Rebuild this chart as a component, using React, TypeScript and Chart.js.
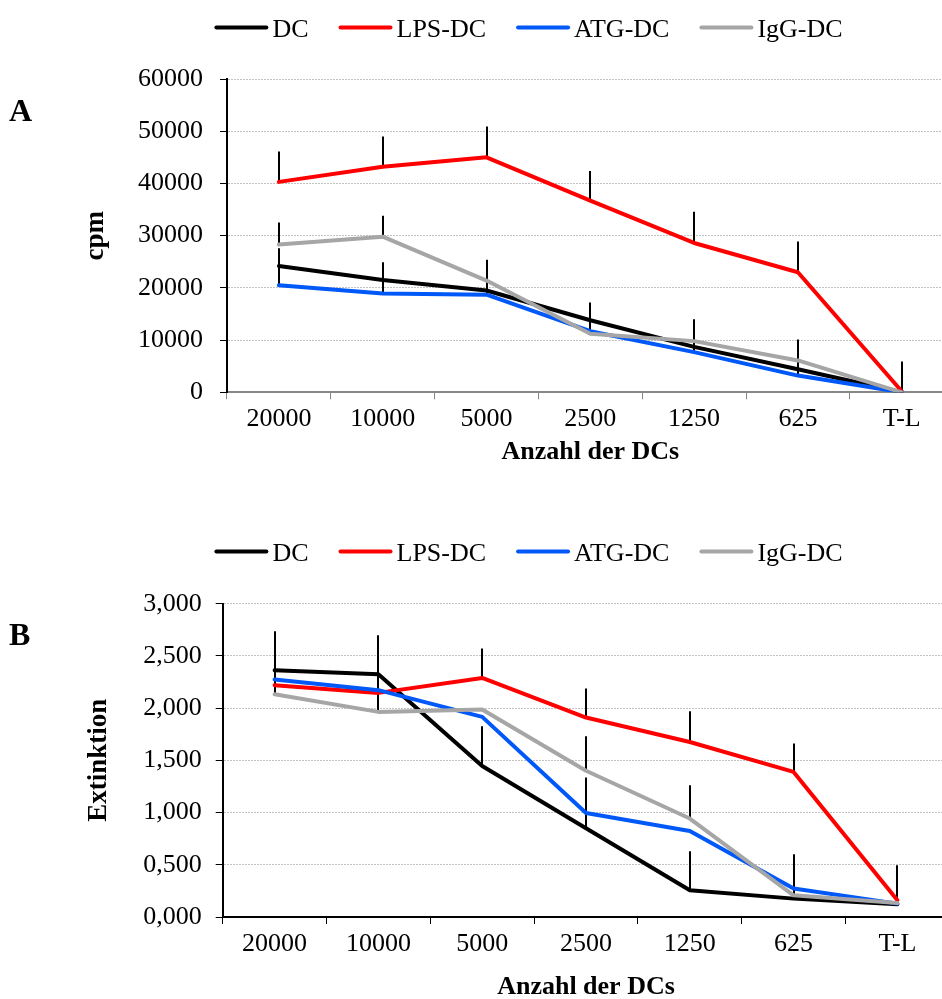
import { useEffect, useRef } from 'react';
import { Chart, registerables } from 'chart.js';

Chart.register(...registerables);

// Shared categories and series
const categories = ['20000', '10000', '5000', '2500', '1250', '625', 'T-L'];
const seriesNames = ['DC', 'LPS-DC', 'ATG-DC', 'IgG-DC'];
const seriesColors = ['#000000', '#ff0000', '#0058f8', '#a6a6a6'];

// Panel A – proliferation (cpm)
const cpmDC = [24200, 21500, 19500, 13800, 8700, 4400, 0];
const cpmLPS = [40300, 43200, 45000, 36700, 28600, 23000, 200];
const cpmATG = [20500, 18900, 18700, 11700, 7700, 3200, 0];
const cpmIgG = [28300, 29800, 21400, 11200, 9800, 6100, 0];
// upper error bars (SD)
const cpmErrDC = [null, null, null, null, null, null, null];
const cpmErrLPS = [5800, 5800, 5900, 5700, 6000, 5900, null];
const cpmErrATG = [7100, 6000, 6700, 5500, 6300, 6900, 5900];
const cpmErrIgG = [4200, 4000, null, null, null, null, null];
const cpmTicks = { min: 0, max: 60000, step: 10000 };

// Panel B – extinction
const extDC = [2.363, 2.325, 1.446, 0.85, 0.256, 0.176, 0.122];
const extLPS = [2.219, 2.146, 2.289, 1.91, 1.676, 1.389, 0.16];
const extATG = [2.274, 2.172, 1.916, 0.996, 0.824, 0.272, 0.128];
const extIgG = [2.133, 1.964, 1.986, 1.4, 0.943, 0.208, 0.134];
const extErrDC = [0.374, 0.373, 0.38, 0.485, 0.373, 0.425, null];
const extErrLPS = [null, null, 0.282, 0.278, 0.294, 0.272, 0.336];
const extErrATG = [null, null, null, null, null, null, null];
const extErrIgG = [0.23, 0.36, null, 0.33, 0.318, null, null];
const extTicks = { min: 0, max: 3, step: 0.5 };

const FONT = '"Liberation Serif", "Times New Roman", serif';
const CANVAS_W = 1056;

// Upper error bars, drawn beneath the lines
const errorBarPlugin = {
  id: 'errorBars',
  beforeDatasetsDraw(chart: any) {
    const { ctx } = chart;
    const yScale = chart.scales.y;
    ctx.save();
    ctx.strokeStyle = '#000';
    ctx.lineWidth = 2;
    chart.data.datasets.forEach((ds: any, i: number) => {
      const meta = chart.getDatasetMeta(i);
      const errs = ds.errorBars || [];
      errs.forEach((e: number | null, j: number) => {
        if (e == null) return;
        const v = ds.data[j];
        const x = Math.round(meta.data[j].x);
        ctx.beginPath();
        ctx.moveTo(x, yScale.getPixelForValue(v));
        ctx.lineTo(x, yScale.getPixelForValue(v + e));
        ctx.stroke();
      });
    });
    ctx.restore();
  },
};

// Panel letter and line legend above the plot
const decorPlugin = {
  id: 'decor',
  afterDraw(chart: any, _args: any, opts: any) {
    const { ctx } = chart;
    ctx.save();
    ctx.fillStyle = '#000';
    ctx.font = `bold 32px ${FONT}`;
    ctx.textBaseline = 'alphabetic';
    ctx.fillText(opts.letter, opts.letterX, opts.letterBaseline);

    ctx.font = `26px ${FONT}`;
    const lineLen = 54;
    const gap = 4;
    const spacing = 30;
    const items = chart.data.datasets.map((ds: any) => ({
      label: ds.label,
      color: ds.borderColor,
      w: lineLen + gap + ctx.measureText(ds.label).width,
    }));
    const total = items.reduce((s: number, it: any) => s + it.w, 0) + spacing * (items.length - 1);
    let x = opts.legendCenterX - total / 2;
    const y = opts.legendY;
    items.forEach((it: any) => {
      ctx.strokeStyle = it.color;
      ctx.lineWidth = 4;
      ctx.lineCap = 'round';
      ctx.beginPath();
      ctx.moveTo(x + 2, y);
      ctx.lineTo(x + lineLen - 2, y);
      ctx.stroke();
      ctx.fillText(it.label, x + lineLen + gap, y + 9.4);
      x += it.w + spacing;
    });
    ctx.restore();
  },
};

type PanelProps = {
  top: number;
  height: number;
  letter: string;
  values: number[][];
  errors: (number | null)[][];
  ticks: { min: number; max: number; step: number };
  yTitle: string;
  yAxisWidth: number;
  yTitlePad: number;
  yLabelPad: number;
  xAxisColor: string;
  xAxisHeight: number;
  xLabelPad: number;
  formatTick: (v: number) => string;
  plotTop: number;
};

function Panel(p: PanelProps) {
  const ref = useRef<HTMLCanvasElement>(null);
  useEffect(() => {
    const plotBottom = p.plotTop + 313.3;
    const xAxisHeight = p.xAxisHeight;
    const plotRight = p.yAxisWidth + 7 * 103.8;
    const chart = new Chart(ref.current!, {
      type: 'line',
      data: {
        labels: categories,
        datasets: seriesNames.map((name, i) => ({
          label: name,
          data: p.values[i],
          errorBars: p.errors[i],
          borderColor: seriesColors[i],
          backgroundColor: seriesColors[i],
          borderWidth: 4,
          pointRadius: 0,
          tension: 0,
          borderJoinStyle: 'round',
          borderCapStyle: 'round',
          order: seriesNames.length - i,
        })) as any,
      },
      options: {
        responsive: false,
        animation: false,
        layout: {
          padding: {
            top: p.plotTop,
            left: 0,
            right: CANVAS_W - plotRight,
            bottom: p.height - plotBottom - xAxisHeight,
          },
        },
        plugins: {
          legend: { display: false },
          tooltip: { enabled: false },
          decor: {
            letter: p.letter,
            letterX: 9,
            letterBaseline: 120.5,
            legendCenterX: 528.5,
            legendY: 27.5,
          },
        } as any,
        scales: {
          x: {
            type: 'category',
            offset: true,
            grid: {
              display: true,
              drawOnChartArea: false,
              offset: true,
              tickLength: 7,
              tickWidth: 1,
              color: p.xAxisColor,
              tickColor: p.xAxisColor,
            },
            border: { display: true, color: p.xAxisColor, width: 2 },
            ticks: {
              color: '#000',
              padding: p.xLabelPad,
              font: { family: FONT, size: 26 },
              maxRotation: 0,
              autoSkip: false,
            },
            title: {
              display: true,
              text: 'Anzahl der DCs',
              color: '#000',
              font: { family: FONT, size: 26, weight: 'bold' },
              padding: { top: 0, bottom: 0 },
            },
            afterFit: (s: any) => {
              s.height = xAxisHeight;
            },
          },
          y: {
            min: p.ticks.min,
            max: p.ticks.max,
            grid: {
              color: '#c2c2c2',
              lineWidth: 1,
              tickColor: '#000',
              tickLength: 7,
              tickWidth: 1,
              tickBorderDash: [],
            },
            border: { display: true, color: '#000', width: 2, dash: [2, 1] },
            ticks: {
              stepSize: p.ticks.step,
              color: '#000',
              padding: p.yLabelPad,
              font: { family: FONT, size: 26 },
              callback: (v: any) => p.formatTick(Number(v)),
            },
            title: {
              display: true,
              text: p.yTitle,
              color: '#000',
              font: { family: FONT, size: 27, weight: 'bold' },
              padding: { top: p.yTitlePad, bottom: 0 },
            },
            afterFit: (s: any) => {
              s.width = p.yAxisWidth;
            },
          },
        },
      } as any,
      plugins: [errorBarPlugin, decorPlugin],
    });
    return () => chart.destroy();
  }, []);
  return (
    <canvas
      ref={ref}
      width={CANVAS_W}
      height={p.height}
      style={{ position: 'absolute', left: 0, top: p.top, width: CANVAS_W, height: p.height }}
    />
  );
}

export default function App() {
  return (
    <div
      style={{
        position: 'absolute',
        left: 0,
        top: 0,
        width: 942,
        height: 999,
        overflow: 'hidden',
        background: '#fff',
      }}
    >
      <Panel
        top={0}
        height={500}
        letter="A"
        values={[cpmDC, cpmLPS, cpmATG, cpmIgG]}
        errors={[cpmErrDC, cpmErrLPS, cpmErrATG, cpmErrIgG]}
        ticks={cpmTicks}
        yTitle="cpm"
        yAxisWidth={227}
        yTitlePad={79.8}
        yLabelPad={17}
        xAxisColor="#878787"
        xAxisHeight={76}
        xLabelPad={4}
        formatTick={(v) => String(Math.round(v))}
        plotTop={79}
      />
      <Panel
        top={524}
        height={490}
        letter="B"
        values={[extDC, extLPS, extATG, extIgG]}
        errors={[extErrDC, extErrLPS, extErrATG, extErrIgG]}
        ticks={extTicks}
        yTitle="Extinktion"
        yAxisWidth={222.7}
        yTitlePad={82.8}
        yLabelPad={14}
        xAxisColor="#000000"
        xAxisHeight={86}
        xLabelPad={5}
        formatTick={(v) => v.toFixed(3).replace('.', ',')}
        plotTop={79.7}
      />
    </div>
  );
}
